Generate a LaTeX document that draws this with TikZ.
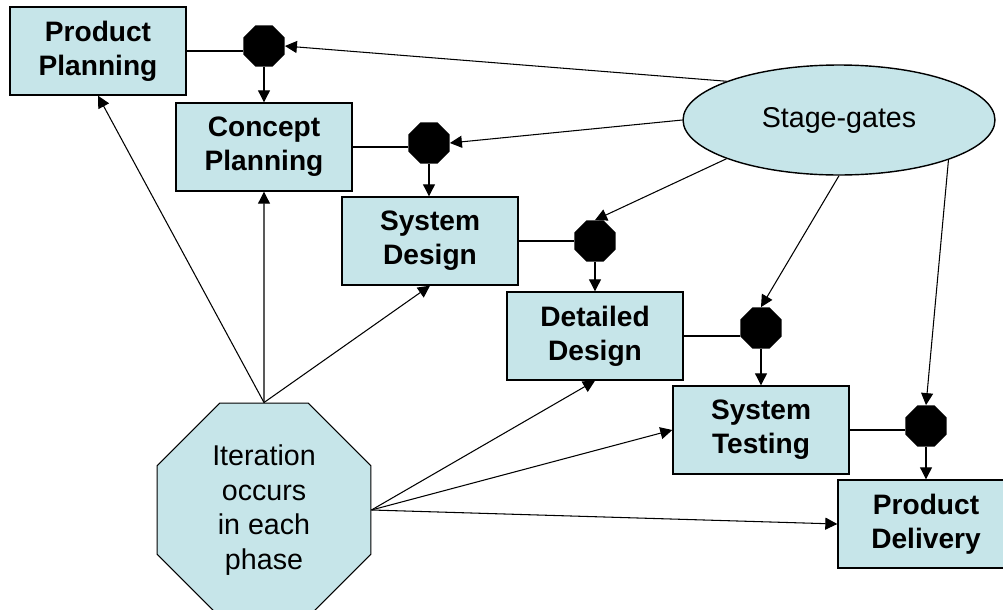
\documentclass[tikz,border=0pt]{standalone}
\usepackage{fontspec}
\setmainfont{Liberation Sans}
\usetikzlibrary{shapes.geometric,arrows.meta}
\definecolor{paleblue}{RGB}{198,229,233}
\begin{document}
\begin{tikzpicture}[x=0.02cm,y=-0.02cm,
  phase/.style={draw,line width=0.8pt,fill=paleblue,minimum width=3.52cm,minimum height=1.76cm,
    inner sep=0pt,align=center,font=\fontsize{16}{19.2}\selectfont\bfseries},
  gate/.style={regular polygon,regular polygon sides=8,fill=black,inner sep=0pt,minimum size=0.89cm},
  arr/.style={-{Triangle[length=2.4mm,width=2.4mm]},line width=0.6pt}]
\useasboundingbox (0,0) rectangle (1003,609);

% Phases, stepping down to the right
\node[phase] (pp) at (98,51) {Product\\Planning};
\node[phase] (cp) at (264,147) {Concept\\Planning};
\node[phase] (sd) at (430,241) {System\\Design};
\node[phase] (dd) at (595,336) {Detailed\\Design};
\node[phase] (st) at (761,430) {System\\Testing};
\node[phase] (pd) at (926,524) {Product\\Delivery};

% Gates between phases
\foreach \n/\x/\y in {g1/264/46, g2/429/143, g3/595/241, g4/761/328, g5/926/426}
  \node[gate] (\n) at (\x,\y) {};

% Stage-gates ellipse
\node[ellipse,draw,line width=0.8pt,fill=paleblue,minimum width=6.24cm,minimum height=2.2cm,
  inner sep=0pt,font=\fontsize{16.3}{19.8}\selectfont] (sg) at (839,120) {Stage-gates};

% Iteration octagon
\node[regular polygon,regular polygon sides=8,draw,line width=0.6pt,fill=paleblue,
  minimum size=4.63cm,inner sep=0pt,align=center,font=\fontsize{16.3}{19.8}\selectfont]
  (it) at (264,510) {Iteration\\occurs\\in each\\phase};

% Phase -> gate -> next phase
\foreach \b/\g/\c in {pp/g1/cp, cp/g2/sd, sd/g3/dd, dd/g4/st, st/g5/pd} {
  \draw[line width=0.6pt] (\b.east) -- (\b.east -| \g.west);
  \draw[arr] (\g.south) -- (\g.south |- \c.north);
}

% Stage-gates to each gate
\draw[arr] (sg.161) -- (g1.east);
\draw[arr] (sg.west) -- (g2.east);
\draw[arr] (sg.199) -- (g3.north);
\draw[arr] (sg.south) -- (g4.north);
\draw[arr] (sg.340) -- (g5.north);

% Iteration back into the phases
\foreach \t in {pp, cp, sd}
  \draw[arr] (it.north) -- (\t.south);
\draw[arr] (it.east) -- (dd.south);
\draw[arr] (it.east) -- (st.west);
\draw[arr] (it.east) -- (pd.west);

\end{tikzpicture}
\end{document}
